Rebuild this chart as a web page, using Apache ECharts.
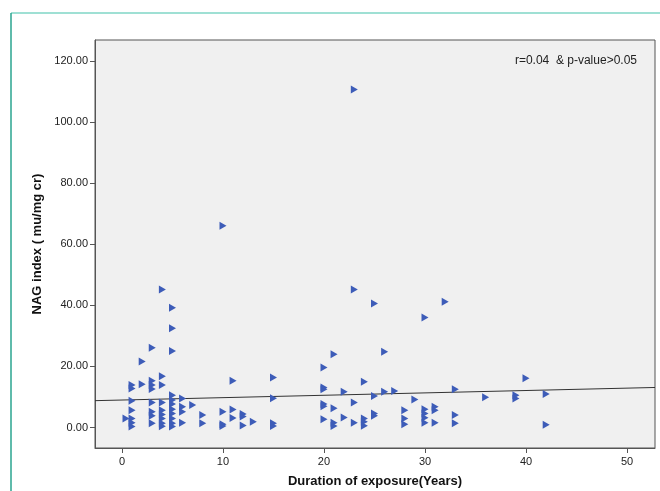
<!DOCTYPE html>
<html>

	<head>
		<meta charset="UTF-8">
		<title></title>
		<style type="text/css">
			* {
				margin: 0;
				padding: 0;
			}
			body {
				background: #fff;
			}
			#chart {
				width: 660px;
				height: 491px;
			}
		</style>
	</head>

	<body>
		<div id="chart"></div>
		<script src="https://cdn.jsdelivr.net/npm/echarts@6/dist/echarts.min.js"></script>
		<script type="text/javascript">
			// 散点数据: 暴露年限 / NAG index
			var years = [
				0.4,
				1, 1, 1, 1, 1, 1, 1,
				2, 2,
				3, 3, 3, 3, 3, 3, 3, 3,
				4, 4, 4, 4, 4, 4, 4, 4, 4,
				5, 5, 5, 5, 5, 5, 5, 5, 5, 5, 5,
				6, 6, 6, 6,
				7,
				8, 8,
				10, 10, 10, 10,
				11, 11, 11,
				12, 12, 12,
				13,
				15, 15, 15, 15,
				20, 20, 20, 20, 20, 20,
				21, 21, 21, 21,
				22, 22,
				23, 23, 23, 23,
				24, 24, 24, 24,
				25, 25, 25, 25,
				26, 26,
				27,
				28, 28, 28,
				29,
				30, 30, 30, 30, 30,
				31, 31, 31,
				32,
				33, 33, 33,
				36,
				39, 39,
				40,
				42, 42
			];
			var nag = [
				3.0,
				13.9, 12.8, 8.8, 5.7, 3.0, 1.6, 0.3,
				21.6, 14.2,
				26.1, 15.3, 13.9, 12.6, 8.2, 5.2, 3.9, 1.4,
				45.2, 16.8, 13.9, 8.2, 5.7, 4.3, 3.0, 1.4, 0.4,
				39.2, 32.5, 25.1, 10.6, 9.0, 7.7, 6.0, 4.6, 3.0, 1.4, 0.3,
				9.5, 6.8, 5.2, 1.6,
				7.4,
				4.1, 1.4,
				66.1, 5.2, 1.1, 0.5,
				15.3, 5.9, 3.1,
				4.4, 3.6, 0.7,
				1.9,
				16.4, 9.6, 1.4, 0.5,
				19.7, 13.1, 12.5, 7.7, 7.0, 2.7,
				24.0, 6.3, 1.6, 0.5,
				11.7, 3.3,
				110.7, 45.2, 8.2, 1.6,
				15.0, 3.0, 1.9, 0.6,
				40.6, 10.3, 4.6, 3.9,
				24.8, 11.7,
				12.0,
				5.7, 3.0, 1.1,
				9.2,
				36.0, 6.0, 4.6, 3.2, 1.6,
				6.8, 5.7, 1.6,
				41.2,
				12.5, 4.1, 1.4,
				9.9,
				10.6, 9.5,
				16.1,
				11.0, 0.9
			];
			// 拟合直线两端
			var fitX = [-2.67, 52.77];
			var fitY = [8.8, 13.12];
			var xTicks = [0, 10, 20, 30, 40, 50];
			var yTicks = [0, 20, 40, 60, 80, 100, 120];

			var points = [];
			for(var i = 0; i < years.length; i++) {
				points.push([years[i], nag[i]]);
			}
			var fitLine = [];
			for(var j = 0; j < fitX.length; j++) {
				fitLine.push([fitX[j], fitY[j]]);
			}

			var myChart = echarts.init(document.getElementById("chart"));
			myChart.setOption({
				animation: false,
				backgroundColor: '#fff',
				title: {
					text: 'r=0.04  & p-value>0.05',
					right: 18,
					top: 50,
					textStyle: {
						color: '#222',
						fontSize: 12,
						fontWeight: 'normal',
						fontFamily: 'Liberation Sans, Arial'
					}
				},
				graphic: [{
					type: 'line',
					shape: { x1: 11, y1: 13, x2: 660, y2: 13 },
					style: { stroke: '#7fd6c6', lineWidth: 1.5 }
				}, {
					type: 'line',
					shape: { x1: 11, y1: 13, x2: 11, y2: 491 },
					style: { stroke: '#2aa58f', lineWidth: 1.5 }
				}],
				grid: {
					left: 95,
					top: 40,
					right: 5,
					bottom: 43,
					outerBoundsMode: 'none',
					show: true,
					backgroundColor: '#f0f0f0',
					borderColor: '#555',
					borderWidth: 1
				},
				xAxis: {
					type: 'value',
					min: -2.67,
					max: 52.77,
					name: 'Duration of exposure(Years)',
					nameLocation: 'middle',
					nameGap: 27,
					nameTextStyle: {
						color: '#111',
						fontSize: 13,
						fontWeight: 'bold',
						fontFamily: 'Liberation Sans, Arial'
					},
					axisLine: { show: true, onZero: false, lineStyle: { color: '#555' } },
					axisTick: { show: true, length: 5, customValues: xTicks, lineStyle: { color: '#555' } },
					axisLabel: {
						customValues: xTicks,
						margin: 8,
						color: '#222',
						fontSize: 11,
						fontFamily: 'Liberation Sans, Arial'
					},
					splitLine: { show: false }
				},
				yAxis: {
					type: 'value',
					min: -6.7,
					max: 126.9,
					name: 'NAG index ( mu/mg cr)',
					nameLocation: 'middle',
					nameGap: 47,
					nameTextStyle: {
						color: '#111',
						fontSize: 13,
						fontWeight: 'bold',
						fontFamily: 'Liberation Sans, Arial'
					},
					axisLine: { show: true, onZero: false, lineStyle: { color: '#555' } },
					axisTick: { show: true, length: 5, customValues: yTicks, lineStyle: { color: '#555' } },
					axisLabel: {
						customValues: yTicks,
						margin: 7,
						color: '#222',
						fontSize: 11,
						fontFamily: 'Liberation Sans, Arial',
						formatter: function(v) {
							return v.toFixed(2);
						}
					},
					splitLine: { show: false }
				},
				series: [{
					type: 'line',
					data: fitLine,
					symbol: 'none',
					silent: true,
					lineStyle: { color: '#333', width: 1 },
					z: 1
				}, {
					type: 'scatter',
					data: points,
					symbol: 'triangle',
					symbolRotate: -90,
					symbolSize: [8, 7],
					itemStyle: { color: '#3d5cb8', opacity: 1 },
					z: 2
				}]
			});
		</script>
	</body>

</html>
